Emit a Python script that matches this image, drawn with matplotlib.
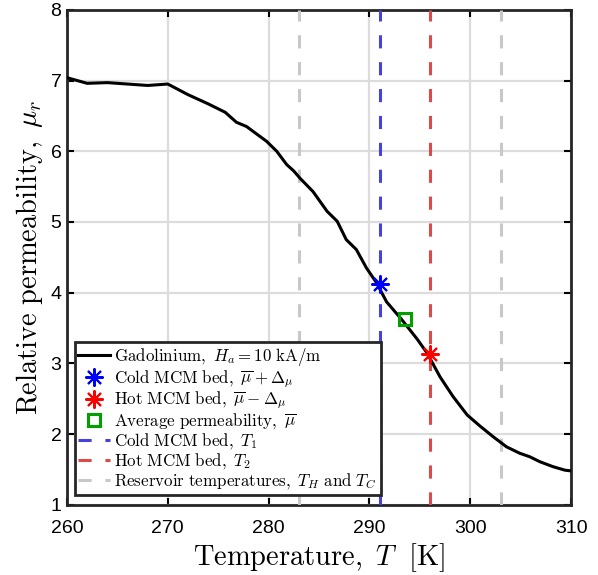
import numpy as np
import matplotlib
matplotlib.use('Agg')
import matplotlib.pyplot as plt

plt.rcParams['mathtext.fontset'] = 'cm'
plt.rcParams['font.family'] = ['Liberation Sans', 'DejaVu Sans']

# Gadolinium permeability curve
temp = [260, 262, 264, 266, 268, 270, 272, 274, 275.7, 276.8, 277.8, 279.8,
        280.8, 281.8, 282.5, 283.1, 284.4, 285.8, 286.8, 287.7, 288.7, 289.7,
        290.7, 291.7, 293.2, 294.7, 295.7, 297, 298.3, 299.7, 301, 302.3,
        303.6, 304.9, 305.9, 306.9, 308.2, 309.4, 310]
mu_r = [7.04, 6.96, 6.97, 6.95, 6.93, 6.95, 6.80, 6.67, 6.55, 6.41, 6.35, 6.14,
        6.00, 5.81, 5.72, 5.62, 5.43, 5.15, 5.01, 4.75, 4.61, 4.35,
        4.14, 3.87, 3.62, 3.35, 3.15, 2.81, 2.53, 2.27, 2.11, 1.96,
        1.82, 1.73, 1.68, 1.61, 1.54, 1.49, 1.48]

# operating points
T_cold, mu_cold = 291, 4.12
T_hot, mu_hot = 296, 3.13
T_avg, mu_avg = 293.5, 3.625
T_res = [283, 303]

fig = plt.figure(figsize=(5.98, 5.75), dpi=100)
ax = fig.add_axes([0.112, 0.122, 0.843, 0.861])

ax.grid(True, color='#dcdcdc', linewidth=1.6)
ax.set_axisbelow(True)

dash = (0, (4.3, 4.5))
h_gd, = ax.plot(temp, mu_r, color='black', linewidth=2.2, zorder=5,
                label=r'$\mathrm{Gadolinium,}\ H_a = 10\ \mathrm{kA/m}$')
h_res = None
for t in T_res:
    h_res = ax.axvline(t, color='#c8c8c8', linestyle=dash, linewidth=2.2,
                       zorder=3, label=r'$\mathrm{Reservoir\ temperatures,}\ T_H\ \mathrm{and}\ T_C$')
h_tc = ax.axvline(T_cold, color='#4444dd', linestyle=dash, linewidth=2.2,
                  zorder=3, label=r'$\mathrm{Cold\ MCM\ bed,}\ T_1$')
h_th = ax.axvline(T_hot, color='#dd4a4a', linestyle=dash, linewidth=2.2,
                  zorder=3, label=r'$\mathrm{Hot\ MCM\ bed,}\ T_2$')

h_c, = ax.plot([T_cold], [mu_cold], linestyle='none', marker=(8, 2, 0),
               markersize=13, markeredgewidth=1.5, color='blue', zorder=6,
               label=r'$\mathrm{Cold\ MCM\ bed,}\ \overline{\mu} + \Delta_\mu$')
h_h, = ax.plot([T_hot], [mu_hot], linestyle='none', marker=(8, 2, 0),
               markersize=13, markeredgewidth=1.5, color='red', zorder=6,
               label=r'$\mathrm{Hot\ MCM\ bed,}\ \overline{\mu} - \Delta_\mu$')
h_a, = ax.plot([T_avg], [mu_avg], linestyle='none', marker='s',
               markersize=9, markeredgewidth=2.2, markerfacecolor='none',
               markeredgecolor='#00a000', zorder=6,
               label=r'$\mathrm{Average\ permeability,}\ \overline{\mu}$')

ax.set_xlim(260, 310)
ax.set_ylim(1, 8)
ax.set_xticks(np.arange(260, 311, 10))
ax.set_yticks(np.arange(1, 9, 1))
ax.tick_params(direction='in', top=True, right=True, length=5, width=1.5,
               labelsize=14)
ax.tick_params(axis='x', pad=11)
ax.tick_params(axis='y', pad=4)
for s in ax.spines.values():
    s.set_linewidth(2)
    s.set_color('#262626')

ax.set_xlabel(r'$\mathrm{Temperature,}\ T\ \ [\mathrm{K}]$', fontsize=20.5,
              labelpad=3)
ax.set_ylabel(r'$\mathrm{Relative\ permeability,}\ \mu_r$', fontsize=20.5,
              labelpad=4)

leg = ax.legend(handles=[h_gd, h_c, h_h, h_a, h_tc, h_th, h_res],
                loc='lower left', bbox_to_anchor=(0.005, 0.01), fontsize=12.2,
                fancybox=False, framealpha=1, edgecolor='#262626',
                handlelength=1.9, handletextpad=0.25, borderpad=0.2,
                labelspacing=0.0, borderaxespad=0.3)
leg.get_frame().set_linewidth(2)
leg.set_zorder(10)

fig.savefig('out.png', dpi=100)
